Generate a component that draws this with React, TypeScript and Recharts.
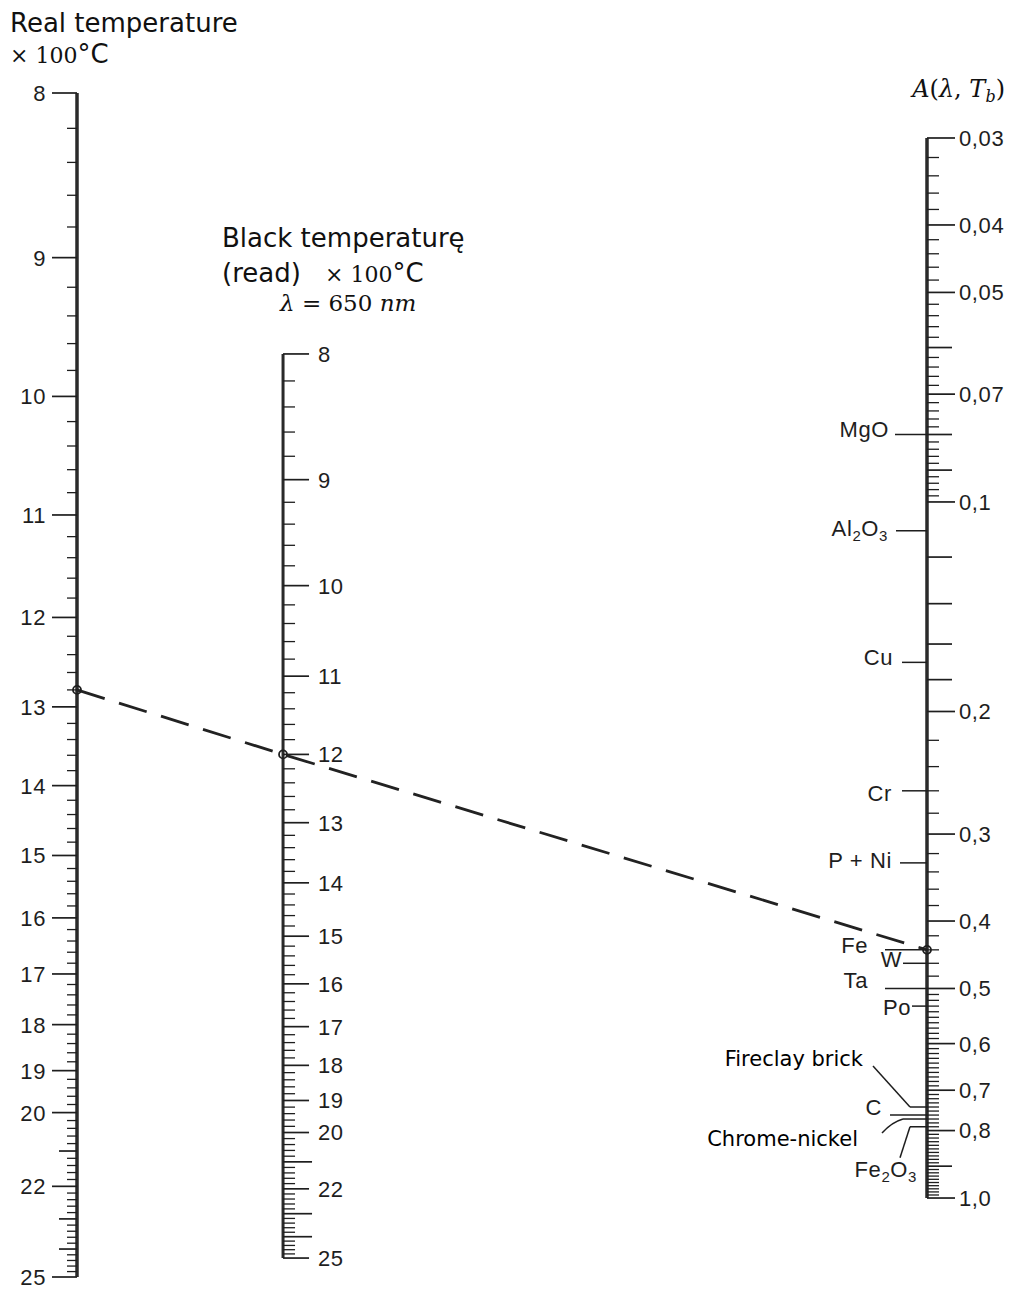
import React from 'react';
import { ComposedChart, XAxis, YAxis, Line, Scatter } from 'recharts';

// ---------------- data ----------------
const REAL_TEMP_LABELED = [8, 9, 10, 11, 12, 13, 14, 15, 16, 17, 18, 19, 20, 22, 25];
const REAL_TEMP_MEDIUM = [21, 23, 24];
const BLACK_TEMP_LABELED = [8, 9, 10, 11, 12, 13, 14, 15, 16, 17, 18, 19, 20, 22, 25];
const BLACK_TEMP_MEDIUM = [21, 23, 24];
const TEMP_MINOR_STEP = 0.2;
const TEMP_RANGE = [8, 25];

const A_LABELED = [0.03, 0.04, 0.05, 0.07, 0.1, 0.2, 0.3, 0.4, 0.5, 0.6, 0.7, 0.8, 1.0];
const A_LABEL_TEXT = ['0,03', '0,04', '0,05', '0,07', '0,1', '0,2', '0,3', '0,4', '0,5', '0,6', '0,7', '0,8', '1,0'];
const A_MEDIUM = [0.06, 0.08, 0.09, 0.12, 0.14, 0.16, 0.18, 0.9];
const A_MINOR = [
  { from: 0.03, to: 0.1, step: 0.002 },
  { from: 0.2, to: 0.5, step: 0.02 },
  { from: 0.5, to: 1.0, step: 0.01 },
];
const A_RANGE = [0.03, 1.0];

const MATERIAL_NAMES = ['MgO', 'Al2O3', 'Cu', 'Cr', 'P + Ni', 'Fe', 'W', 'Ta', 'Po', 'Fireclay brick', 'C', 'Chrome-nickel', 'Fe2O3'];
const MATERIAL_A = [0.08, 0.11, 0.17, 0.26, 0.33, 0.44, 0.46, 0.5, 0.53, 0.74, 0.76, 0.77, 0.79];

const READING_REAL = 12.8;
const READING_BLACK = 12;
const READING_A = 0.44;

// ---------------- scales (nomogram functions) ----------------
const KELVIN_OFFSET = 2.7315; // hundreds of degrees
const recip = (t: number) => 1 / (t + KELVIN_OFFSET);
const tempFrac = (t: number) =>
  (recip(TEMP_RANGE[0]) - recip(t)) / (recip(TEMP_RANGE[0]) - recip(TEMP_RANGE[1]));
const logFrac = (a: number) => Math.log(a / A_RANGE[0]) / Math.log(A_RANGE[1] / A_RANGE[0]);

type AxisKey = 'real' | 'black' | 'A';
const AXES: Record<AxisKey, { x: number; top: number; bottom: number; frac: (v: number) => number; dir: number }> = {
  real: { x: 0, top: 0, bottom: 1, frac: tempFrac, dir: -1 },
  black: { x: 0.2424, top: 0.2204, bottom: 0.984, frac: tempFrac, dir: 1 },
  A: { x: 1, top: 0.038, bottom: 0.9333, frac: logFrac, dir: 1 },
};
const pos = (axis: AxisKey, v: number) => {
  const s = AXES[axis];
  return s.top + (s.bottom - s.top) * s.frac(v);
};

// ---------------- styles ----------------
const INK = '#1e1e1e';
const TICK_LEN: Record<AxisKey, Record<string, number>> = {
  real: { major: 25, medium: 18, minor: 10 },
  black: { major: 26, medium: 29, minor: 12 },
  A: { major: 28, medium: 25, minor: 12 },
};
const LABEL_GAP: Record<AxisKey, number> = { real: 6, black: 9, A: 4 };
const SCAN_FONT = 'Liberation Sans, Arial, sans-serif';
const SCAN_SIZE = 22;

const MATERIAL_LAYOUT: Record<string, any> = {
  MgO: { tick: 32, lx: -38, ly: 3 },
  Al2O3: { tick: 31, lx: -39, ly: 5 },
  Cu: { tick: 25, lx: -34, ly: 3 },
  Cr: { tick: 25, lx: -35, ly: 10 },
  'P + Ni': { tick: 27, lx: -35, ly: 5 },
  Fe: { tick: 42, lx: -59, ly: 3 },
  W: { tick: 24, lx: -25, ly: 4 },
  Ta: { tick: 42, lx: -59, ly: 0 },
  Po: { tick: 15, lx: -16, ly: 9 },
  'Fireclay brick': { tick: 17, lx: -64, ly: -41, annot: true, leader: 'M -54 -41 L -17 0' },
  C: { tick: 37, lx: -45, ly: 0 },
  'Chrome-nickel': { tick: 24, lx: -69, ly: 27, annot: true, leader: 'M -45 14 Q -35 3 -24 0' },
  Fe2O3: { tick: 17, lx: -10, ly: 50, leader: 'M -27 31 L -17 0' },
};

// ---------------- derived tables ----------------
const near = (arr: number[], v: number) => arr.some((a) => Math.abs(a - v) < 1e-6);

function tempTicks(axis: AxisKey, labeled: number[], medium: number[]) {
  const rows: any[] = [];
  const n0 = Math.round(TEMP_RANGE[0] / TEMP_MINOR_STEP);
  const n1 = Math.round(TEMP_RANGE[1] / TEMP_MINOR_STEP);
  for (let i = n0; i <= n1; i++) {
    const v = +(i * TEMP_MINOR_STEP).toFixed(4);
    if (near(labeled, v) || near(medium, v)) continue;
    rows.push({ x: AXES[axis].x, pos: pos(axis, v), axis, kind: 'minor' });
  }
  medium.forEach((v) => rows.push({ x: AXES[axis].x, pos: pos(axis, v), axis, kind: 'medium' }));
  labeled.forEach((v) => rows.push({ x: AXES[axis].x, pos: pos(axis, v), axis, kind: 'major', label: String(v) }));
  return rows;
}

function aTicks() {
  const rows: any[] = [];
  const seen: number[] = [];
  A_MINOR.forEach((r) => {
    const n0 = Math.round(r.from / r.step);
    const n1 = Math.round(r.to / r.step);
    for (let i = n0; i <= n1; i++) {
      const v = +(i * r.step).toFixed(4);
      if (near(A_LABELED, v) || near(A_MEDIUM, v) || near(seen, v)) continue;
      seen.push(v);
      rows.push({ x: AXES.A.x, pos: pos('A', v), axis: 'A', kind: 'minor' });
    }
  });
  A_MEDIUM.forEach((v) => rows.push({ x: AXES.A.x, pos: pos('A', v), axis: 'A', kind: 'medium' }));
  A_LABELED.forEach((v, i) =>
    rows.push({ x: AXES.A.x, pos: pos('A', v), axis: 'A', kind: 'major', label: A_LABEL_TEXT[i] })
  );
  return rows;
}

const realTickData = tempTicks('real', REAL_TEMP_LABELED, REAL_TEMP_MEDIUM);
const blackTickData = tempTicks('black', BLACK_TEMP_LABELED, BLACK_TEMP_MEDIUM);
const aTickData = aTicks();

const axisLine = (axis: AxisKey, lo: number, hi: number) => [
  { x: AXES[axis].x, pos: pos(axis, lo) },
  { x: AXES[axis].x, pos: pos(axis, hi) },
];
const realLine = axisLine('real', TEMP_RANGE[0], TEMP_RANGE[1]);
const blackLine = axisLine('black', TEMP_RANGE[0], TEMP_RANGE[1]);
const aLine = axisLine('A', A_RANGE[0], A_RANGE[1]);

const materialData = MATERIAL_NAMES.map((name, i) => ({
  x: AXES.A.x,
  pos: pos('A', MATERIAL_A[i]),
  name,
}));

const readingData = [
  { x: AXES.real.x, pos: pos('real', READING_REAL) },
  { x: AXES.black.x, pos: pos('black', READING_BLACK) },
  { x: AXES.A.x, pos: pos('A', READING_A) },
];

// ---------------- shapes ----------------
const TickShape = (p: any) => {
  const { cx, cy, payload } = p;
  if (cx == null || cy == null) return <g />;
  const axis = payload.axis as AxisKey;
  const dir = AXES[axis].dir;
  const len = TICK_LEN[axis][payload.kind];
  const x2 = cx + dir * len;
  return (
    <g>
      <line x1={cx} y1={cy} x2={x2} y2={cy} stroke={INK} strokeWidth={payload.kind === 'minor' ? 1.3 : 1.7} />
      {payload.label ? (
        <text
          x={x2 + dir * LABEL_GAP[axis]}
          y={cy}
          dy="0.36em"
          textAnchor={dir < 0 ? 'end' : 'start'}
          fontFamily={SCAN_FONT}
          fontSize={SCAN_SIZE}
          letterSpacing={0.6}
          fill={INK}
        >
          {payload.label}
        </text>
      ) : null}
    </g>
  );
};

function nameParts(name: string) {
  const parts = name.split(/(\d)/).filter((s) => s.length > 0);
  let prevSub = false;
  return parts.map((s, i) => {
    const isSub = /^\d$/.test(s);
    const dy = isSub ? (prevSub ? 0 : 5) : prevSub ? -5 : 0;
    prevSub = isSub;
    return (
      <tspan key={i} dy={dy} fontSize={isSub ? 15 : undefined}>
        {s}
      </tspan>
    );
  });
}

const MaterialShape = (p: any) => {
  const { cx, cy, payload } = p;
  if (cx == null || cy == null) return <g />;
  const L = MATERIAL_LAYOUT[payload.name];
  return (
    <g>
      <line x1={cx - L.tick} y1={cy} x2={cx} y2={cy} stroke={INK} strokeWidth={1.5} />
      {L.leader ? (
        <path d={L.leader} transform={`translate(${cx},${cy})`} fill="none" stroke={INK} strokeWidth={1.5} />
      ) : null}
      <text
        x={cx + L.lx}
        y={cy + L.ly}
        dy="0.36em"
        textAnchor="end"
        fontFamily={L.annot ? 'DejaVu Sans, sans-serif' : SCAN_FONT}
        fontSize={L.annot ? 21 : SCAN_SIZE}
        letterSpacing={L.annot ? 0 : 0.6}
        fill={L.annot ? '#000' : INK}
      >
        {nameParts(payload.name)}
      </text>
    </g>
  );
};

const ReadingDot = (p: any) => {
  const { cx, cy, index } = p;
  if (cx == null || cy == null) return <g key={index} />;
  return <circle key={index} cx={cx} cy={cy} r={4} fill="none" stroke={INK} strokeWidth={1.8} />;
};

// ---------------- component ----------------
export default function App() {
  const W = 1011;
  const H = 1291;
  return (
    <div style={{ position: 'absolute', left: 0, top: 0, width: W, height: H, background: '#fff' }}>
      <ComposedChart width={W} height={H} margin={{ top: 93, right: 84, bottom: 14, left: 77 }}>
        <XAxis type="number" dataKey="x" domain={[0, 1]} hide height={0} />
        <YAxis type="number" dataKey="pos" domain={[0, 1]} reversed hide width={0} />

        <Line data={realLine} dataKey="pos" stroke="#2a2a2a" strokeWidth={3.5} dot={false} isAnimationActive={false} />
        <Line data={blackLine} dataKey="pos" stroke="#2a2a2a" strokeWidth={3} dot={false} isAnimationActive={false} />
        <Line data={aLine} dataKey="pos" stroke="#2a2a2a" strokeWidth={3.5} dot={false} isAnimationActive={false} />

        <Scatter data={realTickData} shape={TickShape} isAnimationActive={false} />
        <Scatter data={blackTickData} shape={TickShape} isAnimationActive={false} />
        <Scatter data={aTickData} shape={TickShape} isAnimationActive={false} />
        <Scatter data={materialData} shape={MaterialShape} isAnimationActive={false} />

        <Line
          data={readingData}
          dataKey="pos"
          stroke="#222"
          strokeWidth={2.8}
          strokeDasharray="29 15"
          dot={ReadingDot}
          activeDot={false}
          isAnimationActive={false}
        />
      </ComposedChart>

      <svg width={W} height={H} style={{ position: 'absolute', left: 0, top: 0, pointerEvents: 'none' }}>
        <text x={10} y={32} fontFamily="DejaVu Sans" fontSize={26} fill="#111">
          Real temperature
        </text>
        <text x={10} y={63} fill="#111">
          <tspan fontFamily="DejaVu Serif" fontSize={22}>× 100</tspan>
          <tspan fontFamily="DejaVu Sans" fontSize={26}>°C</tspan>
        </text>

        <text x={222} y={247} fontFamily="DejaVu Sans" fontSize={26} fill="#111">
          Black temperaturę
        </text>
        <text x={222} y={282} fill="#111">
          <tspan fontFamily="DejaVu Sans" fontSize={26}>(read)</tspan>
          <tspan x={325} fontFamily="DejaVu Serif" fontSize={22}>× 100</tspan>
          <tspan fontFamily="DejaVu Sans" fontSize={26}>°C</tspan>
        </text>
        <text x={280} y={311} fontFamily="DejaVu Serif" fontSize={23} fill="#111">
          <tspan fontStyle="italic">λ</tspan>
          <tspan> = 650 </tspan>
          <tspan fontStyle="italic">nm</tspan>
        </text>

        <text x={1005} y={97} textAnchor="end" fontFamily="DejaVu Serif" fontSize={24} fill="#111">
          <tspan fontStyle="italic">A</tspan>
          <tspan>(</tspan>
          <tspan fontStyle="italic">λ</tspan>
          <tspan>, </tspan>
          <tspan fontStyle="italic">T</tspan>
          <tspan fontStyle="italic" fontSize={16} dy={5}>b</tspan>
          <tspan dy={-5}>)</tspan>
        </text>
      </svg>
    </div>
  );
}
